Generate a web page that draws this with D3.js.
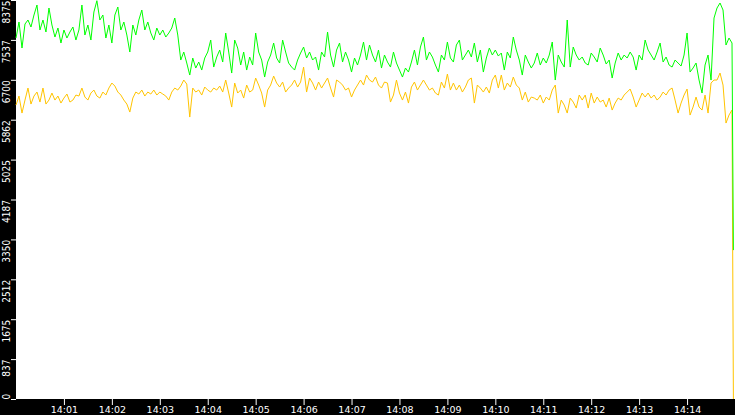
<!DOCTYPE html>
<html>
<head>
<meta charset="utf-8">
<script src="https://cdn.jsdelivr.net/npm/d3@7"></script>
<style>
  body { margin: 0; background: #fff; }
  svg { display: block; }
</style>
</head>
<body>
<svg id="chart"></svg>
<script>
// samples every 3.75 s from 14:00:00, last value is the drop at 14:14:58
const startTime = "14:00:00";
const stepSeconds = 3.75;
const endTime = "14:14:58";

const greenValues = [
  7577, 7913, 7367, 7871, 7955, 7808, 8060, 8270, 7745, 7955,
  7703, 8207, 7850, 7598, 7787, 7472, 7745, 7577, 7703, 7808,
  7535, 7745, 8270, 7640, 7850, 7535, 8123, 8360, 7955, 8060,
  7577, 7850, 7472, 8060, 8228, 7745, 7913, 7640, 7283, 7850,
  7640, 7955, 8165, 7745, 7913, 7682, 7535, 7787, 7640, 7745,
  7598, 7682, 7787, 7997, 7640, 7115, 7283, 7052, 6800, 7157,
  6947,
  7073, 6905, 7157, 7283, 7535, 6968, 7178, 7325, 7073, 7682,
  7283, 6842, 7535, 7367, 7010, 7283, 6905, 7178, 7010, 7682,
  7283, 7115, 6758, 7073, 7220, 7472, 7157, 7052, 7535, 7283,
  7052, 6968, 6905, 7115, 7262, 7388, 7157, 7283, 7115, 7178,
  6905, 7283, 7178, 7703, 7220, 6968, 7325, 7472, 7073, 7283,
  7115, 6863, 7157, 7010, 7220, 7493, 7115, 7430, 7220, 7073,
  7325, 6947, 7220, 7073, 6968, 7283, 7052, 6905, 6758,
  6947, 6863, 7073, 7325, 7010, 7388, 7598, 7115, 7283, 7178,
  7010, 6863, 7220, 7115, 7493, 7157, 7073, 7430, 7535, 7115,
  7220, 7325, 7178, 7472, 7073, 7325, 6863, 7157, 7367, 7220,
  7325, 7199, 7262, 6905, 7283, 7157, 7598, 7325, 7115, 6800,
  7220, 7073, 6947, 7052, 7262, 7010, 7157, 7052, 7220, 7493,
  6695, 7220, 7073, 6968, 7955, 6968, 7388, 7220, 7115, 7178,
  7052, 7010, 7262, 7178, 7073, 7367,
  7220, 7031, 7115, 6737, 7052, 7262, 7115, 7220, 7157, 7283,
  7178, 6905, 7220, 7115, 7535, 7325, 7220, 7115, 7283, 7472,
  7073, 7178, 7010, 6968, 7115, 7052, 6989, 7220, 7682, 6863,
  6947, 7052, 6695, 6422, 7010, 7220, 6695, 7997, 8207, 8312,
  8165, 7430, 7577, 7472,
  3125
];

const yellowValues = [
  6170, 6359, 6002, 6275, 6527, 6191, 6359, 6443, 6233, 6527,
  6191, 6275, 6422, 6275, 6359, 6212, 6317, 6401, 6233, 6275,
  6380, 6359, 6527, 6338, 6275, 6422, 6485, 6359, 6317, 6443,
  6380, 6527, 6632, 6569, 6443, 6380, 6275, 6191, 6023, 6317,
  6443, 6401, 6485, 6359, 6443, 6401, 6485, 6380, 6443, 6401,
  6359, 6275, 6443, 6527, 6485, 6569, 6695, 6611, 5918, 6527,
  6443,
  6485, 6380, 6548, 6485, 6443, 6527, 6485, 6569, 6443, 6695,
  6422, 6128, 6632, 6422, 6485, 6317, 6590, 6443, 6485, 6737,
  6590, 6422, 6128, 6485, 6590, 6779, 6632, 6548, 6653, 6443,
  6527, 6590, 6695, 6548, 6653, 6968, 6443, 6737, 6632, 6485,
  6653, 6527, 6632, 6737, 6527, 6338, 6695, 6653, 6590, 6485,
  6527, 6338, 6485, 6590, 6695, 6590, 6800, 6695, 6653, 6758,
  6590, 6527, 6653, 6632, 6233, 6380, 6695, 6422, 6275,
  6443, 6212, 6548, 6653, 6485, 6590, 6695, 6590, 6485, 6527,
  6422, 6380, 6653, 6527, 6821, 6485, 6632, 6485, 6590, 6443,
  6548, 6695, 6737, 6212, 6590, 6527, 6443, 6548, 6422, 6695,
  6800, 6527, 6800, 6485, 6632, 6548, 6758, 6590, 6527, 6275,
  6443, 6233, 6338, 6317, 6275, 6380, 6212, 6338, 6275, 6485,
  6590, 6002, 6275, 6170, 6002, 6317, 6233, 6107, 6380, 6275,
  6380, 6107, 6422, 6212, 6338, 6233,
  6275, 6128, 6317, 6065, 6212, 6317, 6275, 6380, 6443, 6506,
  6338, 6128, 6275, 6422, 6338, 6422, 6317, 6380, 6275, 6338,
  6443, 6380, 6485, 6527, 6275, 6002, 6212, 6380, 6506, 5960,
  6128, 6338, 6128, 6065, 6380, 6002, 6632, 6695, 6695, 6842,
  6590, 5792, 5960, 6065,
  0
];

const yTicks = [0, 837.5, 1675, 2512.5, 3350, 4187.5, 5025, 5862.5, 6700, 7537.5, 8375];
const xTicks = ["14:01", "14:02", "14:03", "14:04", "14:05", "14:06", "14:07",
  "14:08", "14:09", "14:10", "14:11", "14:12", "14:13", "14:14"];

const W = 735, H = 415;
const margin = { top: 0, right: 0, bottom: 16, left: 16 };

const parseTime = d3.timeParse("%H:%M:%S");
const parseMin = d3.timeParse("%H:%M");
const t0 = parseTime(startTime);
const tEnd = parseTime(endTime);

// time of each sample
function timeAt(i, n) {
  if (i === n - 1) return tEnd;
  return new Date(t0.getTime() + i * stepSeconds * 1000);
}

const svg = d3.select("#chart")
  .attr("width", W)
  .attr("height", H);

// black axis strips
svg.append("rect")
  .attr("x", 0).attr("y", 0)
  .attr("width", margin.left).attr("height", H)
  .attr("fill", "#000");
svg.append("rect")
  .attr("x", 0).attr("y", H - margin.bottom)
  .attr("width", W).attr("height", margin.bottom)
  .attr("fill", "#000");

const x = d3.scaleTime()
  .domain([t0, d3.timeMinute.offset(t0, 15)])
  .range([margin.left, W - margin.right]);

const y = d3.scaleLinear()
  .domain([0, 8375])
  .range([H - margin.bottom, margin.top]);

const line = d3.line()
  .x(d => x(d.t))
  .y(d => y(d.v));

const series = [
  { values: yellowValues, color: "#ffc400" },
  { values: greenValues, color: "#00ff00" }
];

series.forEach(s => {
  const pts = s.values.map((v, i) => ({ t: timeAt(i, s.values.length), v: v }));
  svg.append("path")
    .datum(pts)
    .attr("fill", "none")
    .attr("stroke", s.color)
    .attr("stroke-width", 1)
    .attr("d", line);
});

// Y axis
const yAxis = svg.append("g")
  .attr("transform", `translate(${margin.left},0)`)
  .call(d3.axisLeft(y)
    .tickValues(yTicks)
    .tickFormat(d => Math.floor(d))
    .tickSize(5)
    .tickPadding(0));
yAxis.select(".domain").remove();
yAxis.selectAll("line").attr("stroke", "#fff");
yAxis.selectAll("text")
  .attr("fill", "#fff")
  .attr("x", 0)
  .attr("dy", null)
  .attr("y", -6)
  .attr("transform", "rotate(-90)")
  .attr("text-anchor", d => d === 0 ? "start" : "end")
  .style("font-family", "'DejaVu Sans Condensed', 'DejaVu Sans', sans-serif")
  .style("font-size", "10px");

// X axis
const xAxis = svg.append("g")
  .attr("transform", `translate(0,${H - margin.bottom})`)
  .call(d3.axisBottom(x)
    .tickValues(xTicks.map(parseMin))
    .tickFormat(d3.timeFormat("%H:%M"))
    .tickSize(6));
xAxis.select(".domain").remove();
xAxis.selectAll("line").attr("stroke", "#fff");
xAxis.selectAll("text")
  .attr("fill", "#fff")
  .attr("y", 7.5)
  .style("font-family", "'DejaVu Sans', sans-serif")
  .style("font-size", "9.5px");
</script>
</body>
</html>
